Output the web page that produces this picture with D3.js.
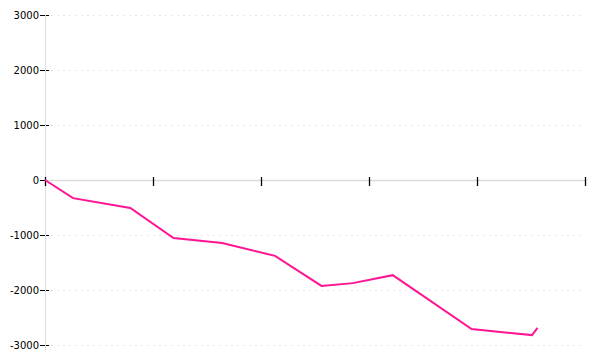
<!DOCTYPE html>
<html>
<head>
<meta charset="utf-8">
<script src="https://cdn.jsdelivr.net/npm/d3@7"></script>
<style>
  body { margin: 0; background: #fff; }
  svg { display: block; }
  .tick text { font-family: "DejaVu Sans", Verdana, sans-serif; font-size: 10px; fill: #000; }
</style>
</head>
<body>
<div id="content"></div>
<script>
// series
var xs = [0, 2.6, 7.9, 11.9, 16.4, 21.3, 25.6, 28.5, 32.2, 39.5, 45.1, 45.6];
var ys = [0, -330, -510, -1055, -1145, -1380, -1925, -1875, -1730, -2710, -2820, -2690];

var yTicks = [-3000, -2000, -1000, 0, 1000, 2000, 3000];
var xTicks = [0, 10, 20, 30, 40, 50];

var width = 600, height = 360;

var x = d3.scaleLinear().domain([0, 50]).range([45, 585]);
var y = d3.scaleLinear().domain([-3000, 3000]).range([345, 15]);

var chart = d3.select("#content")
  .append("svg")
  .attr("width", width)
  .attr("height", height);

// dashed grid
chart.append("g")
  .selectAll("line")
  .data(yTicks.filter(function(d) { return d != 0; }))
  .enter().append("line")
    .attr("x1", 51)
    .attr("x2", 583)
    .attr("y1", function(d) { return Math.round(y(d)) + 0.5; })
    .attr("y2", function(d) { return Math.round(y(d)) + 0.5; })
    .attr("stroke", "#e8e8e8")
    .attr("stroke-dasharray", "2,4");

// y axis ticks + labels
var yAxis = chart.append("g")
  .attr("transform", "translate(49,0)")
  .call(d3.axisLeft(y)
    .tickValues(yTicks)
    .tickSize(9)
    .tickPadding(1)
    .tickFormat(function(d) { return String(d); }));
yAxis.select(".domain").remove();
yAxis.selectAll(".tick line").attr("stroke", "#000").attr("shape-rendering", "crispEdges");

// axis lines (light grey), drawn over the y ticks
chart.append("line")
  .attr("x1", 45.5).attr("x2", 45.5)
  .attr("y1", y(3000)).attr("y2", y(-3000) + 5)
  .attr("stroke", "#dddddd");
chart.append("line")
  .attr("x1", 45).attr("x2", 585)
  .attr("y1", y(0) + 0.5).attr("y2", y(0) + 0.5)
  .attr("stroke", "#dddddd")
  .attr("stroke-width", 1.5);

// x axis ticks, no labels
var xAxis = chart.append("g")
  .attr("transform", "translate(0," + (y(0) - 3) + ")")
  .call(d3.axisBottom(x)
    .tickValues(xTicks)
    .tickSize(9)
    .tickFormat(""));
xAxis.select(".domain").remove();
xAxis.selectAll(".tick line").attr("stroke", "#000").attr("stroke-width", 1.3);

// the series
var pts = xs.map(function(d, i) { return [d, ys[i]]; });
chart.append("path")
  .datum(pts)
  .attr("fill", "none")
  .attr("stroke", "#ff1493")
  .attr("stroke-width", 2)
  .attr("d", d3.line()
    .x(function(d) { return x(d[0]); })
    .y(function(d) { return y(d[1]); }));
</script>
</body>
</html>
